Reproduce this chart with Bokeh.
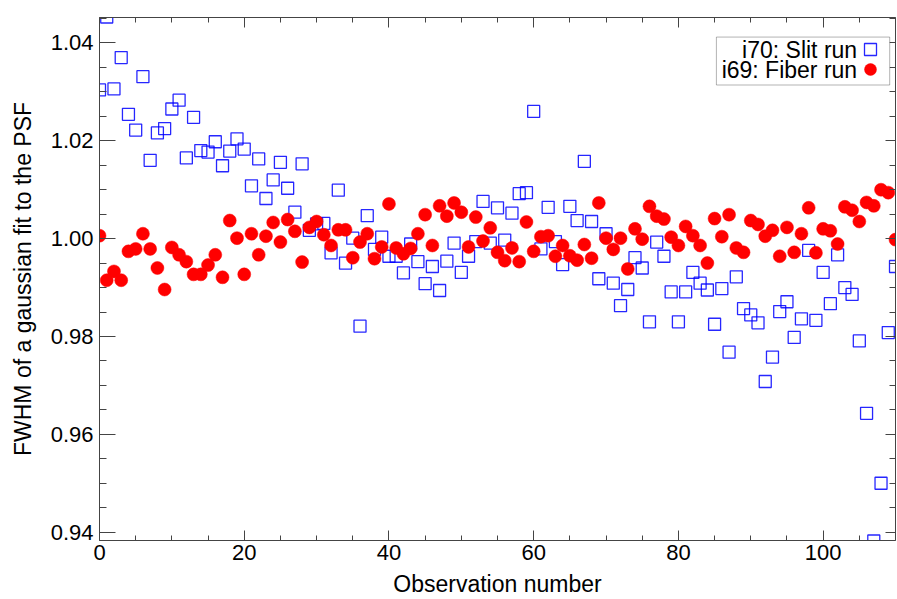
from bokeh.plotting import figure
from bokeh.models import (Range1d, LinearAxis, SingleIntervalTicker, PrintfTickFormatter,
                          Legend, LegendItem, Label, BoxAnnotation)
from bokeh.embed import file_html
from bokeh.resources import INLINE

# Observation numbers
obs = list(range(0, 111))

# i70: Slit run (open blue squares)
slit_fwhm = [
    1.0304, 1.0453, 1.0306, 1.0370, 1.0254, 1.0222, 1.0331, 1.0160, 1.0216, 1.0225,
    1.0265, 1.0283, 1.0165, 1.0248, 1.0180, 1.0177, 1.0198, 1.0149, 1.0179, 1.0204,
    1.0183, 1.0108, 1.0163, 1.0082, 1.0120, 1.0156, 1.0103, 1.0054, 1.0153, 1.0017,
    1.0030, 1.0031, 0.9971, 1.0099, 0.9950, 1.0001, 0.9821, 1.0047, 0.9978, 1.0003,
    0.9964, 0.9964, 0.9930, 0.9989, 0.9953, 0.9908, 0.9943, 0.9894, 0.9954, 0.9991,
    0.9931, 0.9964, 0.9994, 1.0076, 0.9991, 1.0063, 0.9997, 1.0052, 1.0092, 1.0094,
    1.0260, 0.9979, 1.0064, 0.9994, 0.9947, 1.0066, 1.0037, 1.0158, 1.0035, 0.9918,
    1.0010, 0.9909, 0.9863, 0.9896, 0.9961, 0.9940, 0.9830, 0.9993, 0.9964, 0.9891,
    0.9830, 0.9891, 0.9931, 0.9909, 0.9895, 0.9825, 0.9898, 0.9768, 0.9922, 0.9857,
    0.9844, 0.9828, 0.9708, 0.9758, 0.9851, 0.9871, 0.9798, 0.9836, 0.9976, 0.9833,
    0.9931, 0.9867, 0.9967, 0.9900, 0.9886, 0.9791, 0.9643, 0.9382, 0.9500, 0.9808,
    0.9943,
]

# i69: Fiber run (filled red circles)
fiber_fwhm = [
    1.0006, 0.9915, 0.9933, 0.9915, 0.9974, 0.9979, 1.0010, 0.9979, 0.9940, 0.9896,
    0.9982, 0.9967, 0.9953, 0.9927, 0.9927, 0.9946, 0.9967, 0.9921, 1.0037, 1.0001,
    0.9927, 1.0010, 0.9967, 1.0005, 1.0033, 0.9993, 1.0039, 1.0015, 0.9952, 1.0023,
    1.0035, 1.0008, 0.9986, 1.0018, 1.0018, 0.9961, 0.9993, 1.0010, 0.9959, 0.9983,
    1.0071, 0.9981, 0.9969, 0.9980, 1.0010, 1.0049, 0.9986, 1.0067, 1.0046, 1.0073,
    1.0054, 0.9983, 1.0044, 0.9995, 1.0022, 0.9972, 0.9955, 0.9981, 0.9953, 1.0034,
    0.9974, 1.0004, 1.0006, 0.9964, 0.9986, 0.9965, 0.9956, 0.9988, 0.9960, 1.0073,
    1.0001, 0.9978, 1.0001, 0.9938, 1.0020, 0.9999, 1.0066, 1.0046, 1.0040, 1.0003,
    0.9986, 1.0025, 1.0006, 0.9986, 0.9950, 1.0041, 1.0004, 1.0049, 0.9981, 0.9972,
    1.0037, 1.0029, 1.0005, 1.0017, 0.9964, 1.0023, 0.9972, 1.0010, 1.0063, 0.9971,
    1.0020, 1.0016, 0.9989, 1.0065, 1.0058, 1.0035, 1.0074, 1.0067, 1.0100, 1.0094,
    0.9998,
]

x_label = "Observation number"
y_label = "FWHM of a gaussian fit to the PSF"
slit_name = "i70: Slit run"
fiber_name = "i69: Fiber run"

FONT = "Liberation Sans"
AX_COLOR = "#444444"

p = figure(width=897, height=599, output_backend="svg", toolbar_location=None,
           x_range=Range1d(0, 110), y_range=Range1d(0.9383, 1.0452),
           min_border_left=99, min_border_right=2, min_border_top=17, min_border_bottom=57,
           x_axis_label=x_label, y_axis_label=y_label)
p.outline_line_color = None
p.xgrid.visible = False
p.ygrid.visible = False
p.background_fill_color = "white"
p.border_fill_color = "white"

xt = SingleIntervalTicker(interval=20, num_minor_ticks=4)
yt = SingleIntervalTicker(interval=0.02, num_minor_ticks=4)

for ax in p.xaxis:
    ax.ticker = xt
    ax.major_tick_in = 10
    ax.major_tick_out = 0
    ax.minor_tick_in = 5
    ax.minor_tick_out = 0
    ax.major_label_standoff = 4
    ax.axis_label_standoff = 8
    ax.major_label_text_font = FONT
    ax.major_label_text_font_size = "22px"
    ax.major_label_text_color = "black"
    ax.axis_label_text_font = FONT
    ax.axis_label_text_font_size = "23px"
    ax.axis_label_text_font_style = "normal"
    ax.axis_label_text_color = "black"
    ax.axis_line_color = AX_COLOR
    ax.major_tick_line_color = AX_COLOR
    ax.minor_tick_line_color = AX_COLOR

for ax in p.yaxis:
    ax.ticker = yt
    ax.formatter = PrintfTickFormatter(format="%.2f")
    ax.major_tick_in = 16
    ax.major_tick_out = 0
    ax.minor_tick_in = 7
    ax.minor_tick_out = 0
    ax.major_label_standoff = 6
    ax.axis_label_standoff = 12
    ax.major_label_text_font = FONT
    ax.major_label_text_font_size = "22px"
    ax.major_label_text_color = "black"
    ax.axis_label_text_font = FONT
    ax.axis_label_text_font_size = "23px"
    ax.axis_label_text_font_style = "normal"
    ax.axis_label_text_color = "black"
    ax.axis_line_color = AX_COLOR
    ax.major_tick_line_color = AX_COLOR
    ax.minor_tick_line_color = AX_COLOR

# mirrored axes (ticks only, no labels drawn) on top and right
top_ax = LinearAxis(ticker=SingleIntervalTicker(interval=20, num_minor_ticks=4),
                    major_tick_in=10, major_tick_out=0, minor_tick_in=5, minor_tick_out=0,
                    major_label_text_font_size="1px", major_label_text_color=None,
                    major_label_standoff=0,
                    axis_line_color=AX_COLOR, major_tick_line_color=AX_COLOR,
                    minor_tick_line_color=AX_COLOR)
right_ax = LinearAxis(ticker=SingleIntervalTicker(interval=0.02, num_minor_ticks=4),
                      major_tick_in=10, major_tick_out=0, minor_tick_in=6, minor_tick_out=0,
                      major_label_text_font_size="1px", major_label_text_color=None,
                      major_label_standoff=0,
                      axis_line_color=AX_COLOR, major_tick_line_color=AX_COLOR,
                      minor_tick_line_color=AX_COLOR)
p.add_layout(top_ax, "above")
p.add_layout(right_ax, "right")

r_slit = p.scatter(obs, slit_fwhm, marker="square", size=12, fill_color=None,
                   line_color="#0000ff", line_width=1.3, line_alpha=0.85)
r_fiber = p.scatter(obs, fiber_fwhm, marker="circle", size=13, fill_color="#ff0000",
                    line_color="#ff0000", line_width=0.5)

# legend box, texts and markers (text on the left, marker on the right)
box = BoxAnnotation(left=85.25, right=109.2, top=1.0412, bottom=1.0314,
                    fill_color="white", fill_alpha=1.0, line_color="black", line_width=1)
p.add_layout(box)
p.add_layout(Label(x=104.7, y=1.0385, text=slit_name, text_align="right",
                   text_baseline="middle", text_font=FONT, text_font_size="23px",
                   text_color="black"))
p.add_layout(Label(x=104.7, y=1.03445, text=fiber_name, text_align="right",
                   text_baseline="middle", text_font=FONT, text_font_size="23px",
                   text_color="black"))


def marker_legend(renderer, loc):
    return Legend(items=[LegendItem(label=" ", renderers=[renderer])],
                  location=loc, glyph_width=30, glyph_height=30, spacing=0,
                  padding=0, margin=0, label_standoff=0, label_width=0,
                  label_height=0, label_text_font_size="1px",
                  border_line_color=None, background_fill_alpha=0)


p.add_layout(marker_legend(r_slit, (756, 476)))
p.add_layout(marker_legend(r_fiber, (756, 456)))

open("out.html", "w").write(file_html(p, INLINE))
